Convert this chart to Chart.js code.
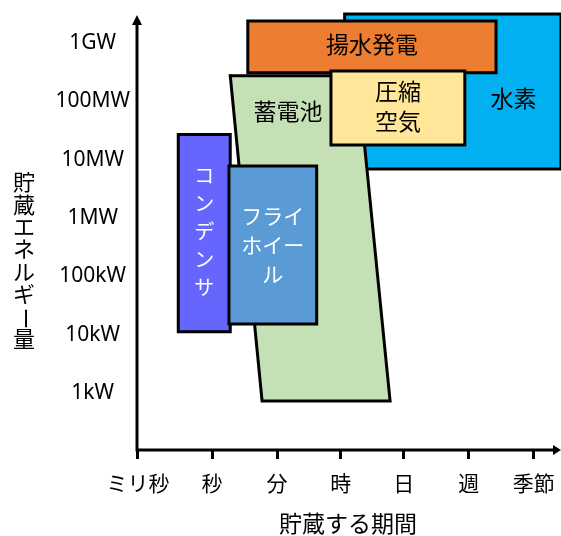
<!DOCTYPE html>
<html>
<head>
<meta charset="utf-8">
<script src="https://cdn.jsdelivr.net/npm/chart.js@4/dist/chart.umd.min.js"></script>
<style>
  html, body { margin: 0; padding: 0; background: #fff; }
  #wrap { width: 561px; height: 536px; }
</style>
</head>
<body>
<div id="wrap"><canvas id="c"></canvas></div>
<script>
// Storage duration axis (qualitative, roughly logarithmic)
const durationLabels = ['ミリ秒', '秒', '分', '時', '日', '週', '季節'];
const durationTicks = [0, 1.14, 2.14, 3.12, 4.09, 5.09, 6.09];

// Stored energy axis, in log10 of watts
const energyLabels = ['1kW', '10kW', '100kW', '1MW', '10MW', '100MW', '1GW'];
const energyTicks = [3, 4, 5, 6, 7, 8, 9];

// Region of each technology: corners as [duration, log10 W]
const hydrogen      = [[3.18, 9.50], [6.51, 9.50], [6.51, 6.84], [3.18, 6.84]];
const battery       = [[1.42, 8.44], [3.38, 8.44], [3.88, 2.86], [1.91, 2.86]];
const pumpedHydro   = [[1.69, 9.38], [5.51, 9.38], [5.51, 8.49], [1.69, 8.49]];
const compressedAir = [[2.97, 8.52], [5.03, 8.52], [5.03, 7.25], [2.97, 7.25]];
const capacitor     = [[0.62, 7.43], [1.42, 7.43], [1.42, 4.05], [0.62, 4.05]];
const flywheel      = [[1.40, 6.89], [2.75, 6.89], [2.75, 4.18], [1.40, 4.18]];

// Technology names and where their captions sit [duration, log10 W]
const techNames = ['水素', '蓄電池', '揚水発電', '圧縮空気', 'コンデンサ', 'フライホイール'];
const captionAt = [[5.78, 8.01], [2.31, 7.80], [3.60, 8.935], [4.00, 7.885], [1.02, 5.74], [2.075, 5.50]];

const FONT = '"Noto Sans", "Noto Sans CJK JP", sans-serif';

function region(name, corners, fillColor, order) {
  const pts = corners.map(([x, y]) => ({ x, y }));
  pts.push({ ...pts[0] });
  return {
    label: name,
    data: pts,
    showLine: true,
    fill: 'shape',
    backgroundColor: fillColor,
    borderColor: '#000',
    borderWidth: 3,
    borderJoinStyle: 'miter',
    borderCapStyle: 'square',
    pointRadius: 0,
    tension: 0,
    order
  };
}

// Scales keep no extra room for edge labels
function noEdgePadding(s) {
  s.paddingTop = 0;
  s.paddingBottom = 0;
  s.paddingLeft = 0;
  s.paddingRight = 0;
}

// Captions, axis lines with arrows and axis titles
const decorations = {
  id: 'decorations',
  afterDatasetsDraw(chart) {
    const { ctx, chartArea, scales: { x, y } } = chart;
    ctx.save();

    const px = v => x.getPixelForValue(v);
    const py = v => y.getPixelForValue(v);

    function lines(texts, cx, cy, pitch, size, color) {
      ctx.font = `${size}px ${FONT}`;
      ctx.fillStyle = color;
      ctx.textAlign = 'center';
      ctx.textBaseline = 'middle';
      const start = cy - pitch * (texts.length - 1) / 2;
      texts.forEach((t, i) => ctx.fillText(t, cx, start + i * pitch));
    }

    // hydrogen
    lines(['水素'], px(captionAt[0][0]), py(captionAt[0][1]), 0, 23, '#000');
    // battery
    lines(['蓄電池'], px(captionAt[1][0]), py(captionAt[1][1]), 0, 23, '#000');
    // pumped hydro
    lines(['揚水発電'], px(captionAt[2][0]), py(captionAt[2][1]), 0, 23, '#000');
    // compressed air
    lines(['圧縮', '空気'], px(captionAt[3][0]), py(captionAt[3][1]), 30, 23, '#000');
    // capacitor, written vertically
    lines(Array.from(techNames[4]), px(captionAt[4][0]), py(captionAt[4][1]), 28, 20, '#fff');
    // flywheel
    lines(['フライ', 'ホイー', 'ル'], px(captionAt[5][0]), py(captionAt[5][1]), 29, 21, '#fff');

    // axes
    const ox = chartArea.left, oy = chartArea.bottom;
    ctx.strokeStyle = '#000';
    ctx.fillStyle = '#000';
    ctx.lineWidth = 3;
    ctx.lineCap = 'butt';
    ctx.beginPath();
    ctx.moveTo(ox, oy + 1.5);
    ctx.lineTo(ox, chartArea.top + 10);
    ctx.moveTo(ox - 1.5, oy);
    ctx.lineTo(chartArea.right - 6, oy);
    ctx.stroke();
    // arrow heads
    ctx.beginPath();
    ctx.moveTo(ox, chartArea.top + 4);
    ctx.lineTo(ox - 5, chartArea.top + 14);
    ctx.lineTo(ox + 5, chartArea.top + 14);
    ctx.closePath();
    ctx.fill();
    ctx.beginPath();
    ctx.moveTo(chartArea.right, oy);
    ctx.lineTo(chartArea.right - 8, oy - 5);
    ctx.lineTo(chartArea.right - 8, oy + 5);
    ctx.closePath();
    ctx.fill();

    // x title
    ctx.font = `23px ${FONT}`;
    ctx.textAlign = 'center';
    ctx.textBaseline = 'middle';
    ctx.fillText('貯蔵する期間', 348, 525);

    // y title, stacked vertically
    ctx.font = `22px ${FONT}`;
    const yTitle = Array.from('貯蔵エネルギー量');
    const pitch = 22.4, cx = 24, top = 184;
    yTitle.forEach((ch, i) => {
      const cy = top + i * pitch;
      if (ch === 'ー') {
        ctx.save();
        ctx.translate(cx, cy);
        ctx.rotate(Math.PI / 2);
        ctx.fillText(ch, 0, 0);
        ctx.restore();
      } else {
        ctx.fillText(ch, cx, cy);
      }
    });

    ctx.restore();
  }
};

new Chart(document.getElementById('c'), {
  type: 'scatter',
  data: {
    datasets: [
      region(techNames[0], hydrogen, '#00B0F0', 6),
      region(techNames[1], battery, '#C5E0B4', 5),
      region(techNames[2], pumpedHydro, '#ED7D31', 4),
      region(techNames[3], compressedAir, '#FFE699', 3),
      region(techNames[4], capacitor, '#6666FF', 2),
      region(techNames[5], flywheel, '#5B9BD5', 1)
    ]
  },
  options: {
    responsive: true,
    maintainAspectRatio: false,
    animation: false,
    devicePixelRatio: 1,
    layout: { padding: { top: 11, right: 0, left: 0, bottom: 0 } },
    plugins: {
      legend: { display: false },
      tooltip: { enabled: false }
    },
    scales: {
      x: {
        type: 'linear',
        min: -0.015,
        max: 6.51,
        afterBuildTicks: s => { s.ticks = durationTicks.map(v => ({ value: v })); },
        afterFit: s => { s.height = 86; noEdgePadding(s); },
        border: { display: false },
        grid: {
          display: true,
          drawOnChartArea: false,
          drawTicks: true,
          tickLength: 9,
          tickWidth: 3,
          tickColor: '#000'
        },
        ticks: {
          autoSkip: false,
          maxRotation: 0,
          padding: 13,
          color: '#000',
          font: { family: FONT, size: 21 },
          callback: (v, i) => durationLabels[i]
        }
      },
      y: {
        type: 'linear',
        min: 2.02,
        max: 9.55,
        afterBuildTicks: s => { s.ticks = energyTicks.map(v => ({ value: v })); },
        afterFit: s => { s.width = 137; noEdgePadding(s); },
        border: { display: false },
        grid: { display: false, drawTicks: false },
        ticks: {
          autoSkip: false,
          crossAlign: 'center',
          padding: 7,
          color: '#000',
          font: { family: FONT, size: 21 },
          callback: (v, i) => energyLabels[i]
        }
      }
    }
  },
  plugins: [decorations]
});
</script>
</body>
</html>
